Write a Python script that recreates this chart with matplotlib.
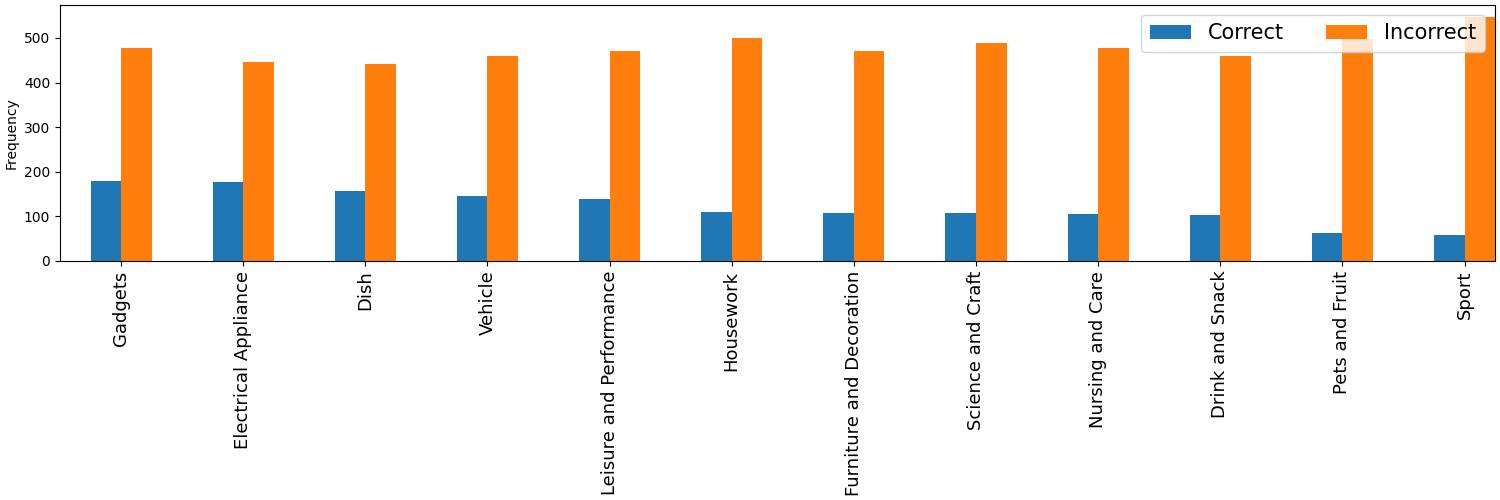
import matplotlib
matplotlib.use("Agg")
import matplotlib.pyplot as plt
import numpy as np

categories = ["Gadgets", "Electrical Appliance", "Dish", "Vehicle", "Leisure and Performance",
              "Housework", "Furniture and Decoration", "Science and Craft", "Nursing and Care",
              "Drink and Snack", "Pets and Fruit", "Sport"]
correct = [179, 177, 157, 145, 139, 110, 107, 107, 105, 103, 63, 58]
incorrect = [478, 445, 442, 460, 471, 500, 471, 489, 478, 460, 498, 547]
series_names = ["Correct", "Incorrect"]

fig, ax = plt.subplots(figsize=(15, 5), dpi=100)
x = np.arange(len(categories))
w = 0.25
ax.bar(x - w / 2, correct, w, color="#1f77b4", label=series_names[0])
ax.bar(x + w / 2, incorrect, w, color="#ff7f0e", label=series_names[1])
ax.set_xlim(-0.5, len(categories) - 0.75)
ax.set_ylim(0, max(incorrect) * 1.05)
ax.set_xticks(x)
ax.set_xticklabels(categories, rotation=90, fontsize=13)
ax.set_ylabel("Frequency")
ax.legend(loc="upper right", ncol=2, fontsize=15)
fig.subplots_adjust(left=0.040, right=0.9967, top=0.9906, bottom=0.478)
fig.savefig("out.png", dpi=100)
